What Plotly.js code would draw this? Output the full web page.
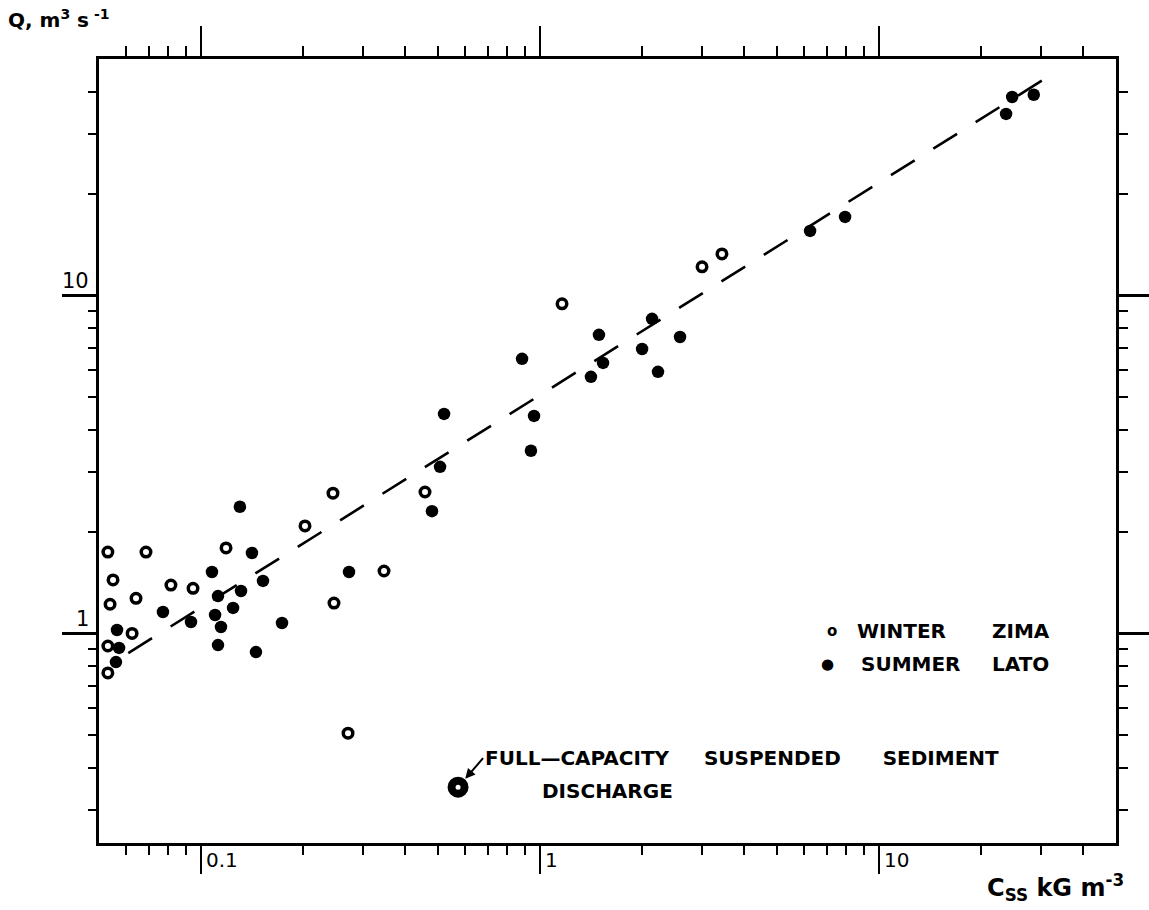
<!DOCTYPE html>
<html>
<head>
<meta charset="utf-8">
<script src="https://cdn.plot.ly/plotly-3.0.1.min.js"></script>
<style>html,body{margin:0;padding:0;background:#fff;}#chart{width:1149px;height:910px;}</style>
</head>
<body>
<div id="chart"></div>
<script>
// Winter (open circles): C_ss [kg m^-3], Q [m^3 s^-1]
const winterX = [0.0531, 0.0688, 0.0550, 0.0539, 0.0643, 0.0626, 0.0531, 0.0531, 0.0815, 0.0947,
                 0.1185, 0.2026, 0.245, 0.3465, 0.2467, 0.4577, 0.2714, 1.161, 3.005, 3.44];
const winterY = [1.74, 1.74, 1.44, 1.22, 1.27, 1.00, 0.918, 0.764, 1.39, 1.36,
                 1.79, 2.08, 2.60, 1.53, 1.23, 2.62, 0.507, 9.44, 12.14, 13.26];
// Summer (filled circles)
const summerX = [0.0565, 0.0573, 0.0561, 0.0772, 0.0934, 0.1077, 0.1122, 0.110, 0.1145, 0.1122,
                 0.1243, 0.1312, 0.1302, 0.1413, 0.1523, 0.1452, 0.1733, 0.2732, 0.480, 0.507,
                 0.521, 0.885, 0.960, 0.940, 1.413, 1.492, 1.534, 2.00, 2.14, 2.228,
                 2.588, 6.26, 7.94, 23.7, 24.7, 28.6];
const summerY = [1.024, 0.906, 0.823, 1.157, 1.081, 1.52, 1.29, 1.134, 1.045, 0.924,
                 1.19, 1.335, 2.37, 1.73, 1.43, 0.881, 1.074, 1.52, 2.30, 3.11,
                 4.46, 6.49, 4.40, 3.47, 5.74, 7.64, 6.31, 6.94, 8.52, 5.94,
                 7.53, 15.51, 17.06, 34.4, 38.6, 39.2];
// Fitted relation (dashed line) end points
const fitX = [0.061, 30.5];
const fitY = [0.875, 43.4];
// Full-capacity suspended sediment discharge
const fullX = [0.573];
const fullY = [0.351];

// Tick definitions
const xTickVals = [0.1, 1, 10];
const xTickText = ['0.1', '1', '10'];
const xMinorVals = [0.06, 0.07, 0.08, 0.09, 0.2, 0.3, 0.4, 0.5, 0.6, 0.7, 0.8, 0.9,
                    2, 3, 4, 5, 6, 7, 8, 9, 20, 30, 40];
const yTickVals = [1, 10];
const yTickText = ['1', '10'];
const yMinorVals = [0.3, 0.4, 0.5, 0.6, 0.7, 0.8, 0.9, 2, 3, 4, 5, 6, 7, 8, 9, 20, 30, 40];

const xRange = [Math.log10(0.05), Math.log10(50)];
const yRange = [Math.log10(0.24), Math.log10(50)];

const FONT = 'DejaVu Sans, sans-serif';
const NB = n => '\u00A0'.repeat(n);

const traces = [
  { x: fitX, y: fitY, mode: 'lines', type: 'scatter',
    line: { color: '#000', width: 2.6, dash: '28px,22px' }, hoverinfo: 'skip' },
  { x: winterX, y: winterY, mode: 'markers', type: 'scatter', name: 'WINTER',
    marker: { symbol: 'circle', size: 9.5, color: '#fff', line: { color: '#000', width: 3.5 } } },
  { x: summerX, y: summerY, mode: 'markers', type: 'scatter', name: 'SUMMER',
    marker: { symbol: 'circle', size: 12.5, color: '#000', line: { width: 0 } } },
  { x: fullX, y: fullY, mode: 'markers', type: 'scatter',
    marker: { symbol: 'circle', size: 13, color: '#fff', line: { color: '#000', width: 8 } } },
  { x: [], y: [], xaxis: 'x2', yaxis: 'y2', mode: 'markers', type: 'scatter', hoverinfo: 'skip' }
];

function xAxisDef(side, majorLen, minorLen) {
  return {
    type: 'log', range: xRange, autorange: false, side: side,
    showline: true, linecolor: '#000', linewidth: 3, mirror: false,
    showgrid: false, zeroline: false,
    tickmode: 'array', tickvals: xTickVals, ticks: 'outside',
    ticklen: majorLen, tickwidth: 2.5, tickcolor: '#000', showticklabels: false,
    minor: { tickmode: 'array', tickvals: xMinorVals, ticks: 'outside',
             ticklen: minorLen, tickwidth: 2, tickcolor: '#000', showgrid: false }
  };
}
function yAxisDef(side, majorLen, minorLen) {
  return {
    type: 'log', range: yRange, autorange: false, side: side,
    showline: true, linecolor: '#000', linewidth: 3, mirror: false,
    showgrid: false, zeroline: false,
    tickmode: 'array', tickvals: yTickVals, ticks: 'outside',
    ticklen: majorLen, tickwidth: 2.5, tickcolor: '#000', showticklabels: false,
    minor: { tickmode: 'array', tickvals: yMinorVals, ticks: 'outside',
             ticklen: minorLen, tickwidth: 2, tickcolor: '#000', showgrid: false }
  };
}

const xa = xAxisDef('bottom', 28, 9);
const xa2 = Object.assign(xAxisDef('top', 30, 10), { overlaying: 'x' });
const ya = yAxisDef('left', 34, 8);
const ya2 = Object.assign(yAxisDef('right', 33, 9), { overlaying: 'y' });

const annotations = [];
// x tick labels (to the right of the major tick)
xTickVals.forEach((v, i) => {
  annotations.push({ xref: 'x', yref: 'paper', x: Math.log10(v), y: 0,
    xanchor: 'left', yanchor: 'top', xshift: 3, yshift: -3, showarrow: false,
    text: xTickText[i], font: { family: FONT, size: 20, color: '#000' } });
});
// y tick labels (above the major tick, left of the axis)
yTickVals.forEach((v, i) => {
  annotations.push({ xref: 'paper', yref: 'y', x: 0, y: Math.log10(v),
    xanchor: 'right', yanchor: 'bottom', xshift: -8, yshift: 0, showarrow: false,
    text: yTickText[i], font: { family: FONT, size: 21, color: '#000' } });
});
// Axis titles
annotations.push({ xref: 'paper', yref: 'paper', x: 0, y: 1, xanchor: 'left', yanchor: 'middle',
  xshift: -93, yshift: 40, showarrow: false,
  text: 'Q,' + NB(1) + 'm<sup>3</sup>' + NB(1) + 's<sup>' + NB(1) + '-1</sup>',
  font: { family: FONT, size: 20, color: '#000', weight: 'bold' } });
annotations.push({ xref: 'paper', yref: 'paper', x: 1, y: 0, xanchor: 'right', yanchor: 'middle',
  xshift: 10, yshift: -44, showarrow: false,
  text: 'C<sub>SS</sub> kG m<sup>-3</sup>', font: { family: FONT, size: 24, color: '#000', weight: 'bold' } });
// Legend symbols and texts
const legRows = [
  { sym: 'o', symSize: 15, symShift: -284, y: 631, a: 'WINTER', aShift: -261, b: 'ZIMA' },
  { sym: '\u25CF', symSize: 15, symShift: -289, y: 664, a: 'SUMMER', aShift: -257, b: 'LATO' }
];
legRows.forEach(r => {
  annotations.push({ xref: 'paper', yref: 'paper', x: 1, y: 0, xanchor: 'center', yanchor: 'middle',
    xshift: r.symShift, yshift: 843 - r.y, showarrow: false, text: r.sym,
    font: { family: FONT, size: r.symSize, color: '#000', weight: 'bold' } });
  annotations.push({ xref: 'paper', yref: 'paper', x: 1, y: 0, xanchor: 'left', yanchor: 'middle',
    xshift: r.aShift, yshift: 843 - r.y, showarrow: false, text: r.a,
    font: { family: FONT, size: 20, color: '#000', weight: 'bold' } });
  annotations.push({ xref: 'paper', yref: 'paper', x: 1, y: 0, xanchor: 'left', yanchor: 'middle',
    xshift: -126, yshift: 843 - r.y, showarrow: false, text: r.b,
    font: { family: FONT, size: 20, color: '#000', weight: 'bold' } });
});
// Full capacity annotation text with arrow to the point
annotations.push({ xref: 'x', yref: 'y', x: Math.log10(fullX[0]), y: Math.log10(fullY[0]),
  xanchor: 'left', yanchor: 'middle', showarrow: true, ax: 25, ay: -29,
  arrowhead: 2, arrowsize: 1, arrowwidth: 2, arrowcolor: '#000', standoff: 11, align: 'left',
  text: 'FULL\u2014CAPACITY' + NB(5) + 'SUSPENDED' + NB(6) + 'SEDIMENT',
  font: { family: FONT, size: 20, color: '#000', weight: 'bold' } });
annotations.push({ xref: 'x', yref: 'y', x: Math.log10(fullX[0]), y: Math.log10(fullY[0]),
  xanchor: 'left', yanchor: 'middle', xshift: 82, yshift: -4, showarrow: false, align: 'left',
  text: 'DISCHARGE',
  font: { family: FONT, size: 20, color: '#000', weight: 'bold' } });

const layout = {
  width: 1149, height: 910,
  paper_bgcolor: '#fff', plot_bgcolor: '#fff',
  margin: { l: 99, r: 33, t: 59, b: 67, pad: 0 },
  showlegend: false,
  xaxis: xa, xaxis2: xa2, yaxis: ya, yaxis2: ya2,
  annotations: annotations,
  font: { family: FONT, color: '#000' }
};

Plotly.newPlot('chart', traces, layout, { staticPlot: true, displayModeBar: false });
</script>
</body>
</html>
